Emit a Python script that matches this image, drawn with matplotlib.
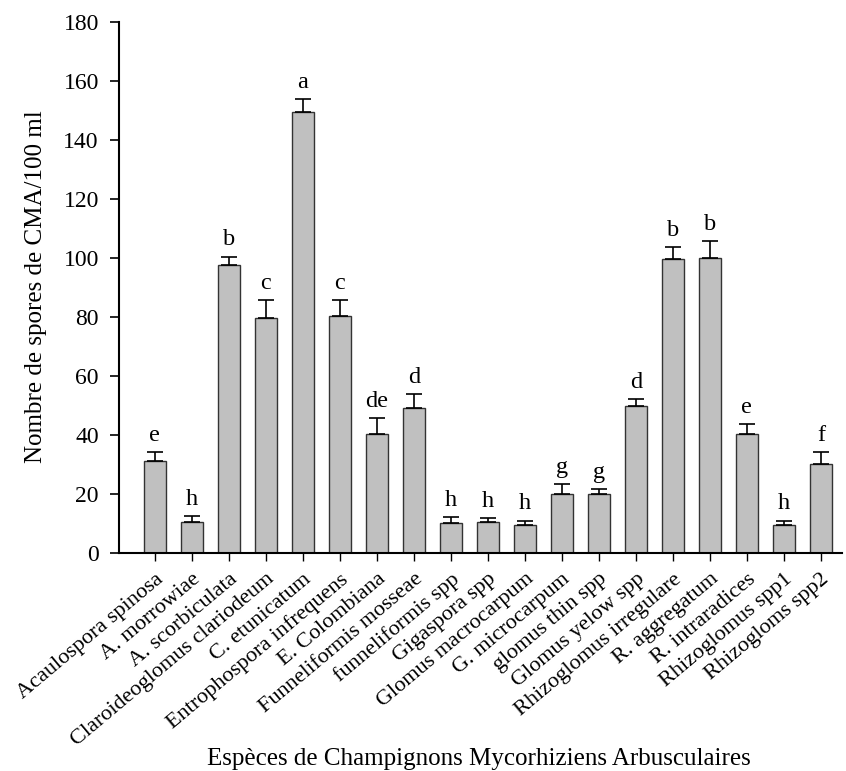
import matplotlib
matplotlib.use("Agg")
import matplotlib.pyplot as plt
import numpy as np

species = [
    "Acaulospora spinosa", "A. morrowiae", "A. scorbiculata",
    "Claroideoglomus clariodeum", "C. etunicatum", "Entrophospora infrequens",
    "E. Colombiana", "Funneliformis mosseae", "funneliformis spp",
    "Gigaspora spp", "Glomus macrocarpum", "G. microcarpum",
    "glomus thin spp", "Glomus yelow spp", "Rhizoglomus irregulare",
    "R. aggregatum", "R. intraradices", "Rhizoglomus spp1", "Rhizogloms spp2",
]
spores = [31.2, 10.6, 97.6, 79.8, 149.6, 80.4, 40.4, 49.3, 10.3,
          10.4, 9.6, 20.0, 20.0, 49.8, 99.8, 100.1, 40.3, 9.6, 30.2]
errors = [3.0, 1.8, 2.9, 6.0, 4.2, 5.2, 5.3, 4.6, 1.8,
          1.5, 1.4, 3.4, 1.6, 2.3, 3.8, 5.6, 3.4, 1.4, 4.0]
groups = ["e", "h", "b", "c", "a", "c", "de", "d", "h",
          "h", "h", "g", "g", "d", "b", "b", "e", "h", "f"]

plt.rcParams["font.family"] = ["Liberation Serif", "DejaVu Serif"]

W, H = 846, 771
fig = plt.figure(figsize=(W / 100, H / 100), dpi=100)
ax = fig.add_axes([119 / W, (H - 553) / H, (842 - 119) / W, (553 - 22) / H])

x = np.arange(len(species))
ax.bar(x, spores, width=0.6, color="#c0c0c0", edgecolor="#333333",
       linewidth=1.0, zorder=2)
ax.errorbar(x, spores, yerr=[np.zeros(len(errors)), errors], fmt="none",
            ecolor="black", elinewidth=1.2, capsize=6, capthick=1.2, zorder=3)

for xi, v, e, g in zip(x, spores, errors, groups):
    ax.annotate(g, (xi, v + e), xytext=(0, 8), textcoords="offset points",
                ha="center", va="baseline", fontsize=17.5)

ax.set_xlim(-0.97, 18.57)
ax.set_ylim(0, 180)
ax.set_yticks(np.arange(0, 181, 20))
ax.set_xticks(x)
ax.set_xticklabels(species, rotation=40, ha="right", rotation_mode="anchor",
                   fontsize=16)
ax.tick_params(axis="y", labelsize=17, direction="out", length=6.5,
               width=1.2, pad=8)
ax.tick_params(axis="x", direction="out", length=6, width=1.0, pad=6)

for side in ("top", "right"):
    ax.spines[side].set_visible(False)
for side in ("left", "bottom"):
    ax.spines[side].set_linewidth(1.5)

fig.text(36 / W, 1 - 287 / H, "Nombre de spores de CMA/100 ml",
         rotation=90, ha="center", va="center", fontsize=18)
fig.text(479 / W, (H - 765) / H,
         "Espèces de Champignons Mycorhiziens Arbusculaires",
         ha="center", va="baseline", fontsize=18)

fig.savefig("out.png", dpi=100)
